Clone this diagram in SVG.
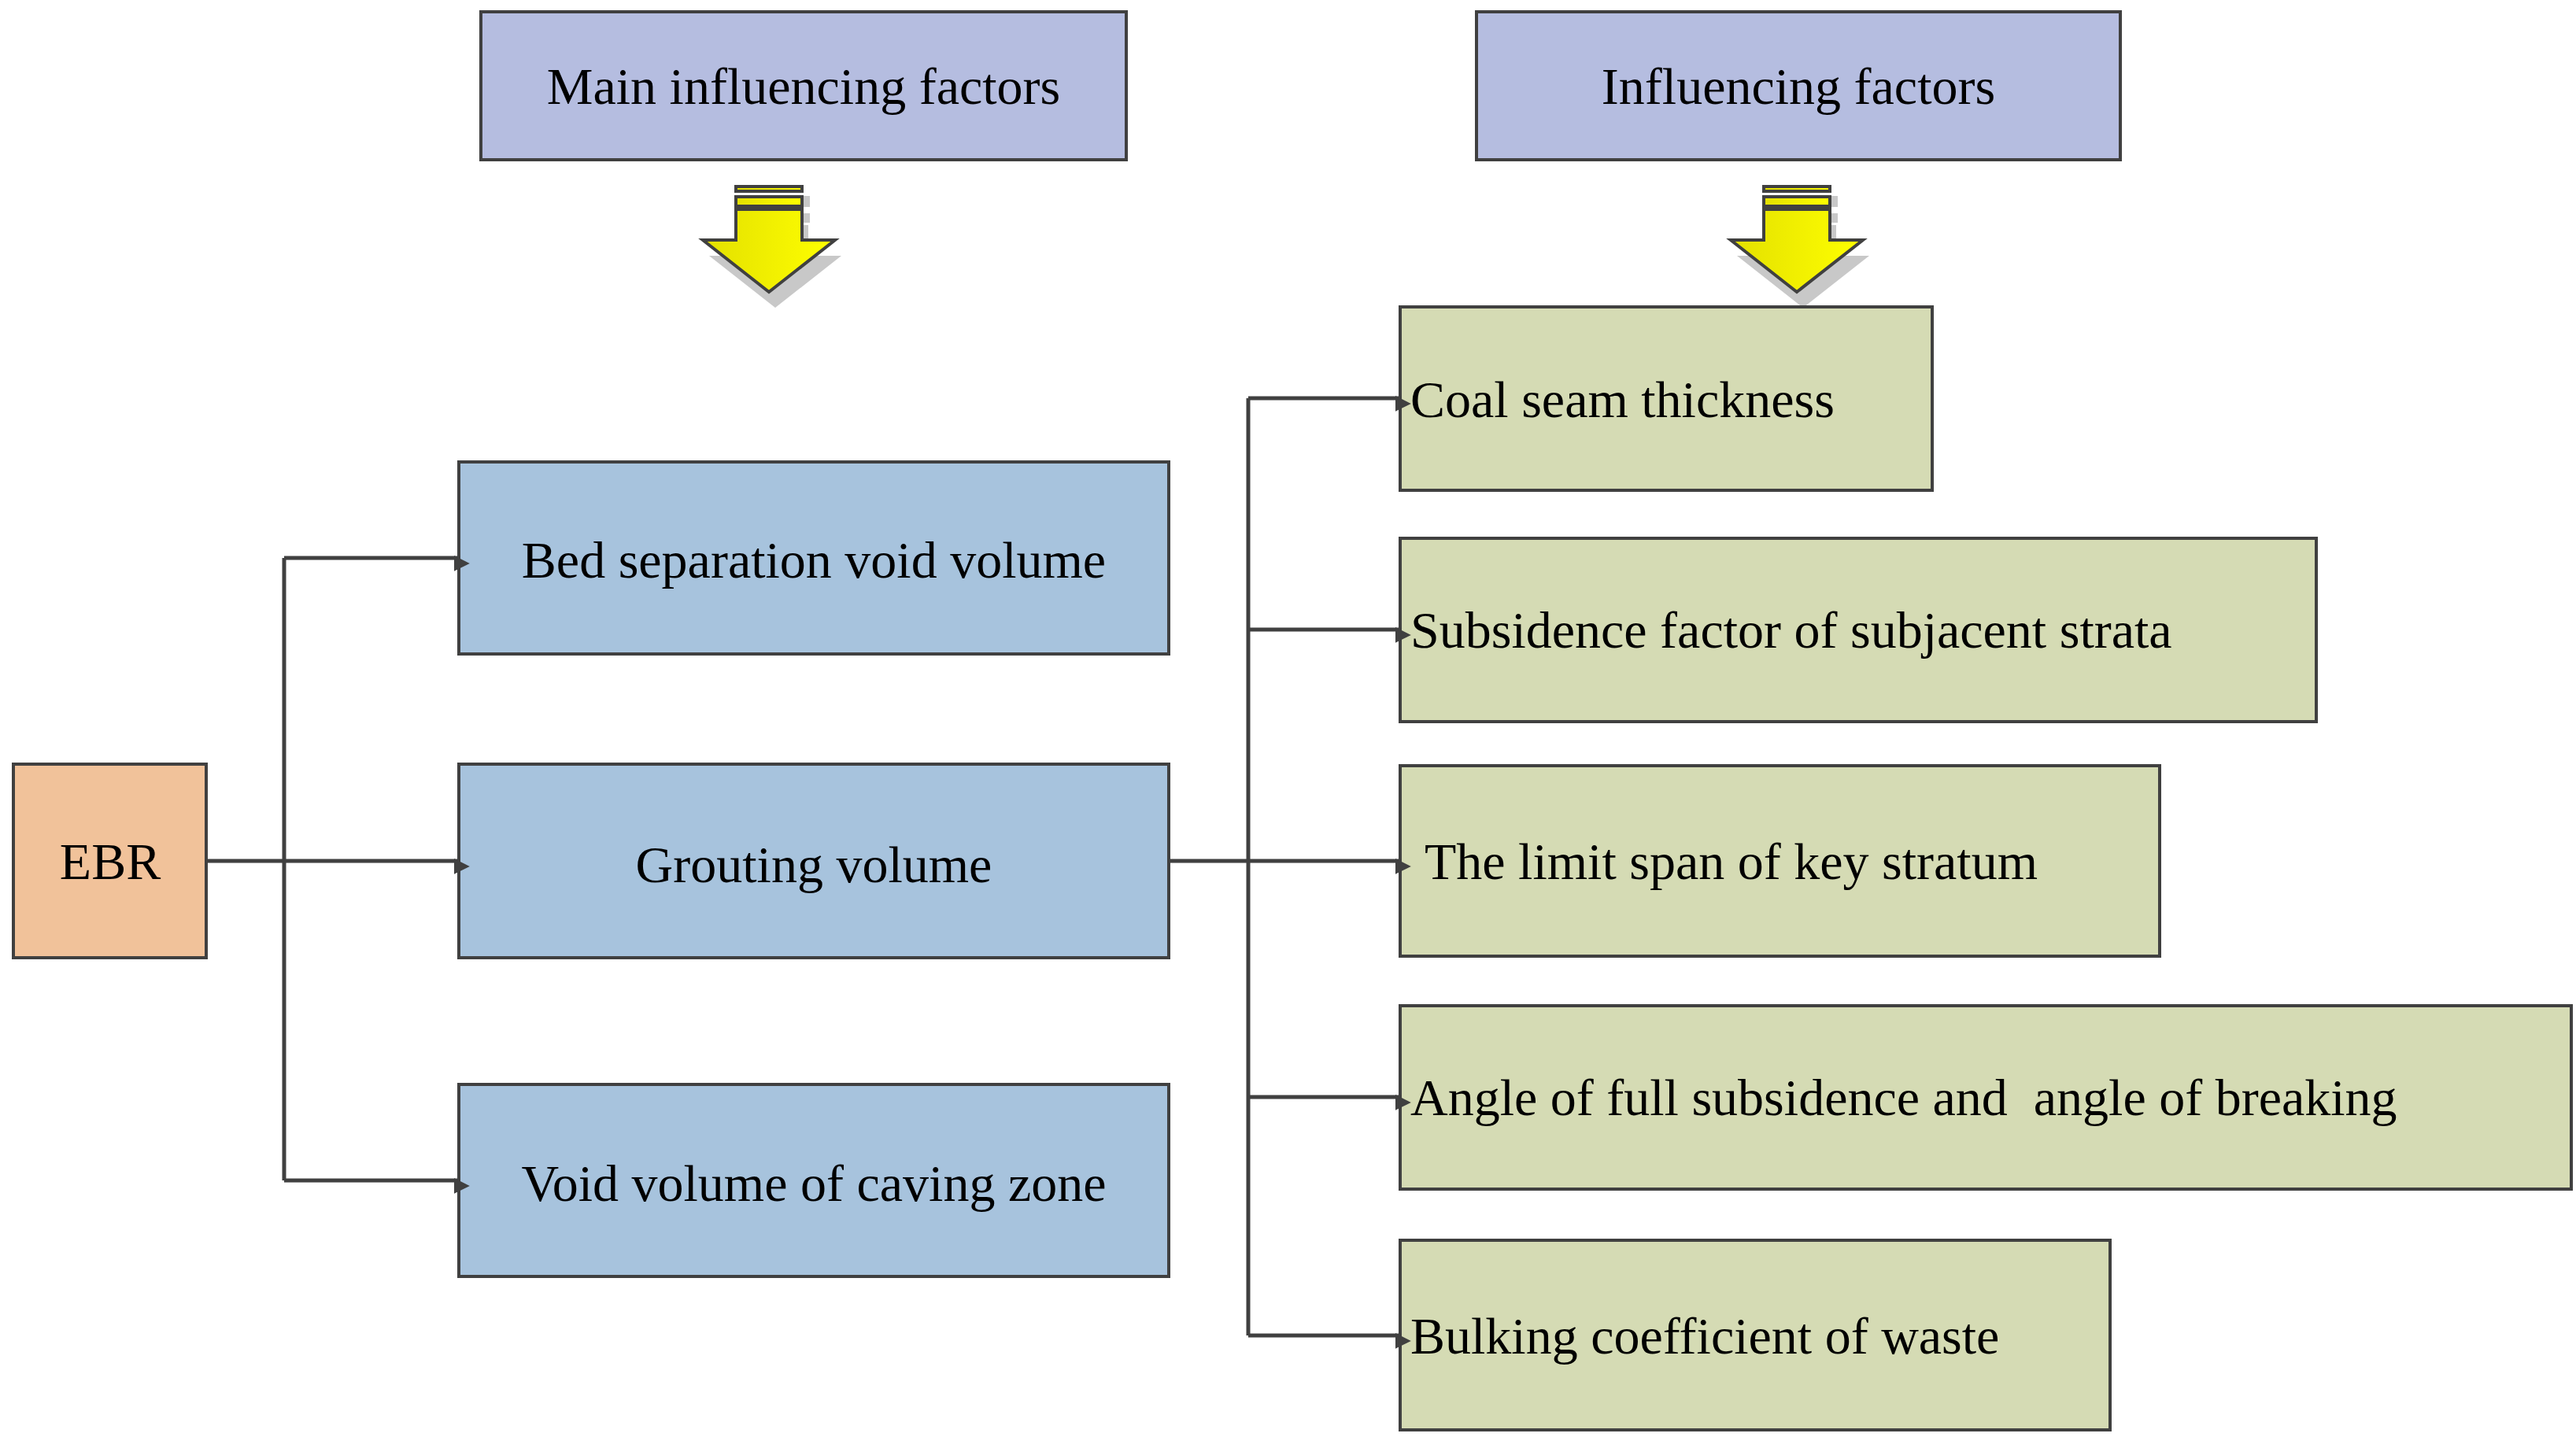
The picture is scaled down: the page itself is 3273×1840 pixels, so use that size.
<svg xmlns="http://www.w3.org/2000/svg" width="3273" height="1840" viewBox="0 0 3273 1840">
<style>
rect{stroke:#404040;stroke-width:4}
.h{fill:#b5bde0}.b{fill:#a7c3dd}.g{fill:#d5dbb4}.o{fill:#f1c29a}
text{font-family:"Liberation Serif",serif;font-size:66px;fill:#000;dominant-baseline:central}
.c{text-anchor:middle}
.ln{stroke:#404040;stroke-width:5;fill:none}
.ar{fill:url(#yg);stroke:#404040;stroke-width:4}
</style>
<defs>
<linearGradient id="yg" x1="0" x2="1"><stop offset="0" stop-color="#e3e000"/><stop offset="1" stop-color="#ffff00"/></linearGradient>
<marker id="m" viewBox="0 0 10 10" refX="10" refY="5" markerWidth="6" markerHeight="6" orient="auto" markerUnits="userSpaceOnUse" style="overflow:visible"><path d="M0,0L10,5L0,10z" fill="#404040" transform="scale(3.3)" /></marker>
<g id="yarrow">
<path d="M-40,-95h84v14h-84z M-40,-73h84v12h-84z" fill="#c8c8c8" transform="translate(8,6)"/>
<path d="M-42,-60v39h-42l84,66l84,-66h-42v-39z" fill="#c8c8c8" transform="translate(8,8)"/>
<rect class="ar" x="-42" y="-101" width="84" height="6"/>
<rect class="ar" x="-42" y="-88" width="84" height="12"/>
<path class="ar" d="M-42,-72v39h-42l84,66l84,-66h-42v-39z"/>
</g>
</defs>
<g id="h1"><rect class="h" x="611" y="15" width="820" height="188"/><text class="c" x="1021" y="109">Main influencing factors</text></g>
<g id="h2"><rect class="h" x="1876" y="15" width="818" height="188"/><text class="c" x="2285" y="109">Influencing factors</text></g>
<use href="#yarrow" x="977" y="338"/>
<use href="#yarrow" x="2283" y="338"/>
<g id="ebr"><rect class="o" x="17" y="971" width="245" height="246"/><text class="c" x="140" y="1094">EBR</text></g>
<g id="bed"><rect class="b" x="583" y="587" width="902" height="244"/><text class="c" x="1034" y="711">Bed separation void volume</text></g>
<g id="grout"><rect class="b" x="583" y="971" width="902" height="246"/><text class="c" x="1034" y="1098">Grouting volume</text></g>
<g id="void"><rect class="b" x="583" y="1378" width="902" height="244"/><text class="c" x="1034" y="1503">Void volume of caving zone</text></g>
<g id="coal"><rect class="g" x="1779" y="390" width="676" height="233"/><text x="1792" y="507">Coal seam thickness</text></g>
<g id="sub"><rect class="g" x="1779" y="684" width="1164" height="233"/><text x="1792" y="800">Subsidence factor of subjacent strata</text></g>
<g id="lim"><rect class="g" x="1779" y="973" width="965" height="242"/><text x="1810" y="1094">The limit span of key stratum</text></g>
<g id="ang"><rect class="g" x="1779" y="1278" width="1488" height="233"/><text x="1792" y="1394" xml:space="preserve">Angle of full subsidence and  angle of breaking</text></g>
<g id="bulk"><rect class="g" x="1779" y="1576" width="902" height="241"/><text x="1792" y="1697">Bulking coefficient of waste</text></g>
<g id="connectors">
<path class="ln" d="M361,709V1500"/>
<path class="ln" d="M262,1094H583" marker-end="url(#m)"/>
<path class="ln" d="M361,709H583" marker-end="url(#m)"/>
<path class="ln" d="M361,1500H583" marker-end="url(#m)"/>
<path class="ln" d="M1586,506V1697"/>
<path class="ln" d="M1485,1094H1779" marker-end="url(#m)"/>
<path class="ln" d="M1586,506H1779" marker-end="url(#m)"/>
<path class="ln" d="M1586,800H1779" marker-end="url(#m)"/>
<path class="ln" d="M1586,1394H1779" marker-end="url(#m)"/>
<path class="ln" d="M1586,1697H1779" marker-end="url(#m)"/>
</g>
</svg>
